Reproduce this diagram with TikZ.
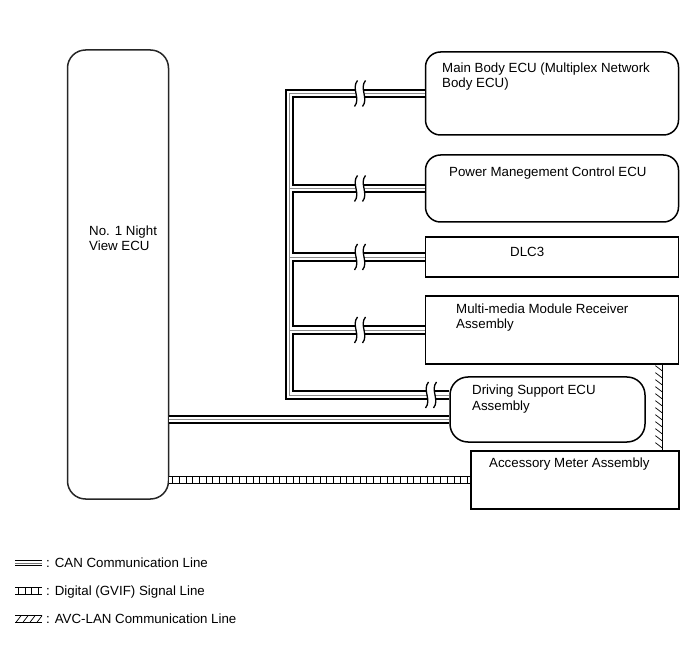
\documentclass[tikz,border=0pt]{standalone}
\usepackage{fontspec}
\setmainfont{Liberation Sans}
\usepackage{tikz}
\usetikzlibrary{positioning}
\usetikzlibrary{decorations.markings}

\begin{document}
\begin{tikzpicture}[x=1pt,y=-1pt,
  ecu/.style={draw,line width=1.5pt,rounded corners=15pt,inner sep=0pt},
  unit/.style={draw,line width=1.5pt,inner sep=0pt},
  txt/.style={anchor=base west,inner sep=0pt,align=left,font=\fontsize{13.3}{15.5}\selectfont},
  canline/.style={preaction={draw=black,line width=9.6pt},preaction={draw=white,line width=5.4pt},draw=black!45,line width=0.8pt},
  cankey/.style={preaction={draw=black,line width=6.6pt},preaction={draw=white,line width=3.4pt},draw=black!55,line width=0.6pt},
  gvifline/.style={preaction={draw=black,line width=8.4pt},preaction={draw=white,line width=6.6pt},
    postaction={decorate,decoration={markings,mark=between positions 3.3pt and 1 step 6.7pt with {\draw[line width=0.8pt] (0pt,-3.6pt) -- (0pt,3.6pt);}}}},
  avcline/.style={preaction={draw=black,line width=8.4pt},preaction={draw=white,line width=6.6pt},
    postaction={decorate,decoration={markings,mark=between positions 3.5pt and 1 step 7pt with {\draw[line width=0.7pt] (-2.6pt,-3.4pt) -- (2.6pt,3.4pt);}}}},
  brk/.pic={
    \fill[white] (-2.5,-13) .. controls (-9,-5) and (1,5) .. (-5.5,13) -- (2.5,13) .. controls (9,5) and (-1,-5) .. (5.5,-13) -- cycle;
    \draw[line width=1.3pt] (-2.5,-13) .. controls (-9,-5) and (1,5) .. (-5.5,13);
    \draw[line width=1.3pt] (5.5,-13) .. controls (-1,-5) and (9,5) .. (2.5,13);}]
\useasboundingbox (0,0) rectangle (691,660);

\node[ecu,draw=black!85,rounded corners=18pt,minimum width=101pt,minimum height=449pt] (nv) at (118,274.5) {};
\node[ecu,minimum width=253pt,minimum height=83pt] (mainbody) at (552,93.5) {};
\node[ecu,minimum width=253pt,minimum height=67pt] (power) at (552,188.5) {};
\node[unit,minimum width=253pt,minimum height=40pt] (dlc) at (552,257) {};
\node[unit,minimum width=253pt,minimum height=68pt] (mm) at (552,330) {};
\node[ecu,rounded corners=18pt,minimum width=195pt,minimum height=65pt] (drv) at (547.5,409.5) {};
\node[unit,minimum width=208pt,minimum height=58pt] (acc) at (575,480) {};

\node[txt] (nvtxt) at (89,251) {No. 1 Night\\View ECU};
\node[txt] (mbtxt) at (442,88) {Main Body ECU (Multiplex Network\\Body ECU)};
\node[txt] (pwtxt) at (449,176.8) {Power Manegement Control ECU};
\node[txt] (dlctxt) at (510,256.8) {DLC3};
\node[txt] (mmtxt) at (456,329) {Multi-media Module Receiver\\Assembly};
\node[txt] (drvtxt) at (472,410) {Driving Support ECU\\Assembly};
\node[txt] (acctxt) at (489,467.8) {Accessory Meter Assembly};

\coordinate (bustop) at (289.5,0 |- mainbody.west);
\coordinate (busbot) at (289.5,395);
\path[canline] (mainbody.west) -- (bustop) -- (busbot) -- ([yshift=14.5pt]drv.west)
  (bustop |- power.west) -- (power.west)
  (bustop |- dlc.west) -- (dlc.west)
  (bustop |- mm.west) -- (mm.west);
\path[canline] ([yshift=-10pt]drv.west -| nv.east) -- ([yshift=-10pt]drv.west);
\path[gvifline] (nv.east |- acc.west) -- (acc.west);
\path[avcline] ([xshift=-20.5pt]mm.south east) -- ([xshift=-20.5pt]mm.south east |- acc.north);

\pic at (360,0 |- mainbody.west) {brk};
\pic at (360,0 |- power.west) {brk};
\pic at (360,0 |- dlc.west) {brk};
\pic at (360,0 |- mm.west) {brk};
\pic at (431,395) {brk};

\coordinate (k1) at (15,563);
\coordinate (k2) at (42,563);
\coordinate (k3) at (15,591);
\coordinate (k4) at (42,591);
\coordinate (k5) at (15,619);
\coordinate (k6) at (42,619);
\path[cankey] (k1) -- (k2);
\path[gvifline] (k3) -- (k4);
\path[avcline] (k5) -- (k6);
\node[txt] (lcan) at (46,567.8) {: CAN Communication Line};
\node[txt] (lgvif) at (46,595.8) {: Digital (GVIF) Signal Line};
\node[txt] (lavc) at (46,623.8) {: AVC-LAN Communication Line};
\end{tikzpicture}
\end{document}
